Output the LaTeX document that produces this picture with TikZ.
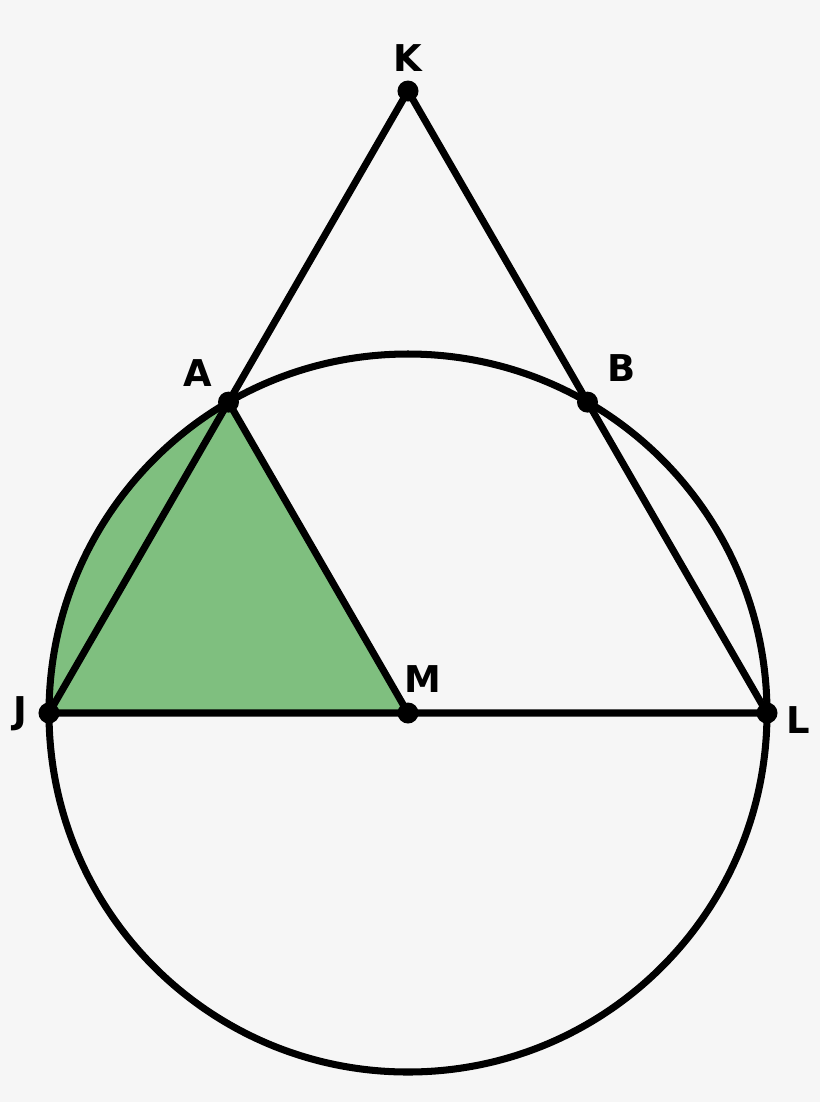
\documentclass[tikz,border=0pt]{standalone}
\usepackage{fontspec}
\setmainfont{DejaVu Sans}
\definecolor{bg}{HTML}{F6F6F6}
\definecolor{fillg}{HTML}{7FBF7F}
\begin{document}
\begin{tikzpicture}[x=0.01cm,y=-0.01cm,
  edge/.style={line width=2pt,line join=round},
  pt/.style={circle,fill=black,inner sep=0pt,minimum size=0.21cm},
  lab/.style={font=\fontsize{10.5pt}{12pt}\selectfont\bfseries,inner sep=0pt}]
\fill[bg] (0,0) rectangle (820,1102);
\useasboundingbox (0,0) rectangle (820,1102);
\coordinate (M) at (408,713);
\coordinate (J) at (49,713);
\coordinate (L) at (767,713);
\coordinate (K) at (408,91);
\coordinate (A) at (228.5,402.1);
\coordinate (B) at (587.5,402.1);
% green region
\begin{scope}
\clip (M) circle[radius=359];
\fill[fillg] (M) -- (192.6,340) -- (0,340) -- (0,713) -- cycle;
\end{scope}
% circle
\draw[edge] (M) circle[radius=359];
% lines
\draw[edge] (J) -- (K) -- (L) -- cycle;
\draw[edge] (A) -- (M);
% points
\node[pt] (nJ) at (J) {};
\node[pt] (nL) at (L) {};
\node[pt] (nK) at (K) {};
\node[pt] (nA) at (A) {};
\node[pt] (nB) at (B) {};
\node[pt] (nM) at (M) {};
% labels
\node[lab] (lK) at (408,58) {K};
\node[lab] (lA) at (198,373) {A};
\node[lab] (lB) at (622,368) {B};
\node[lab] (lJ) at (20,714) {J};
\node[lab] (lM) at (423,679) {M};
\node[lab] (lL) at (798,720) {L};
\end{tikzpicture}
\end{document}
